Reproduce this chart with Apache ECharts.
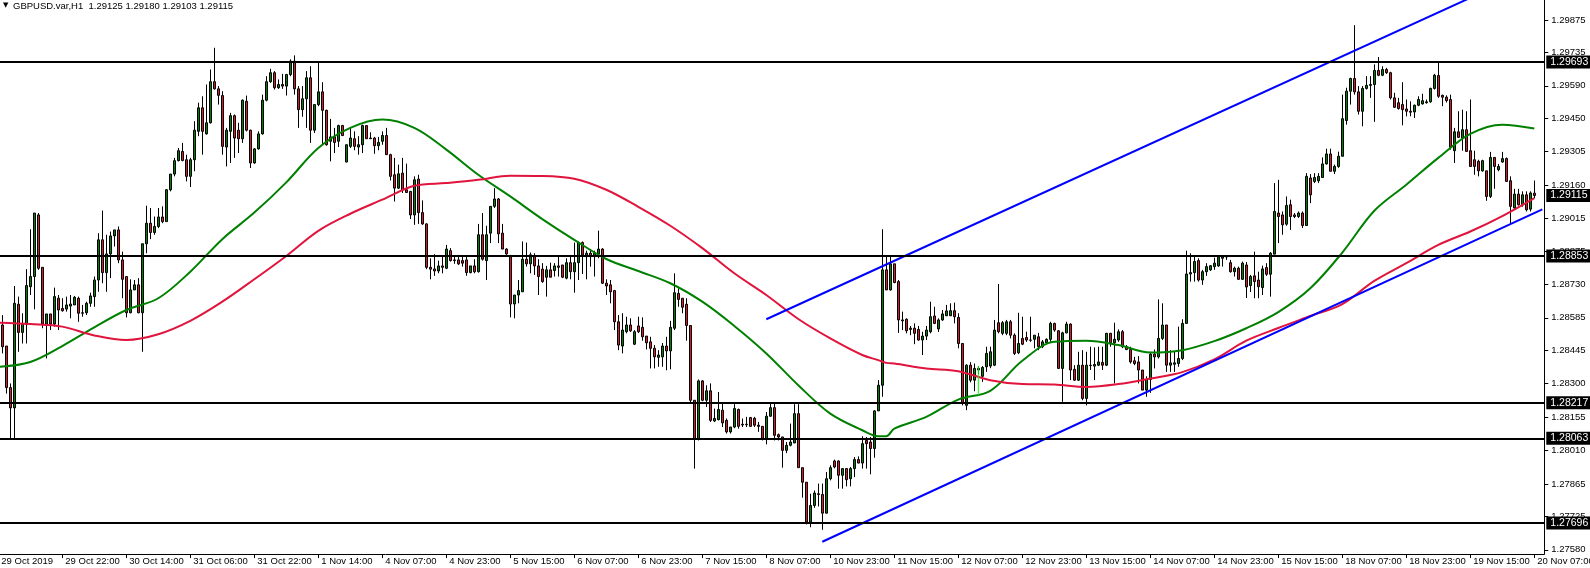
<!DOCTYPE html>
<html><head><meta charset="utf-8">
<script src="https://cdn.jsdelivr.net/npm/echarts@6/dist/echarts.min.js"></script>
<style>html,body{margin:0;padding:0;background:#fff}#c{width:1590px;height:568px}</style>
</head><body><div id="c"></div>
<script>
// ---- OHLC data (GBPUSD H1, 29 Oct 06:00 .. 20 Nov 07:00) ----
const opens = [
1.28567,1.28554,1.28463,1.28283,1.28195,1.28644,1.28522,1.28557,1.28720,1.28764,
1.29031,1.28804,1.28558,1.28602,1.28558,1.28670,1.28626,1.28623,1.28636,1.28641,
1.28670,1.28607,1.28607,1.28648,1.28677,1.28749,1.28923,1.28781,1.28862,1.28940,
1.28966,1.28836,1.28764,1.28607,1.28706,1.28728,1.28607,1.28906,1.28995,1.28955,
1.28981,1.29022,1.29002,1.29140,1.29208,1.29266,1.29306,1.29270,1.29198,1.29270,
1.29393,1.29495,1.29382,1.29430,1.29608,1.29577,1.29548,1.29325,1.29393,1.29461,
1.29398,1.29361,1.29523,1.29398,1.29256,1.29317,1.29382,1.29528,1.29608,1.29647,
1.29582,1.29596,1.29589,1.29639,1.29697,1.29577,1.29487,1.29534,1.29625,1.29398,
1.29509,1.29564,1.29484,1.29350,1.29369,1.29350,1.29418,1.29260,1.29328,1.29361,
1.29325,1.29335,1.29418,1.29364,1.29364,1.29331,1.29350,1.29375,1.29292,1.29205,
1.29147,1.29212,1.29140,1.29133,1.29031,1.29186,1.29041,1.28992,1.28804,1.28797,
1.28788,1.28810,1.28800,1.28876,1.28836,1.28836,1.28833,1.28836,1.28781,1.28810,
1.28785,1.28945,1.28833,1.28952,1.29068,1.29100,1.28952,1.28883,1.28850,1.28645,
1.28684,1.28698,1.28839,1.28819,1.28853,1.28810,1.28796,1.28761,1.28793,1.28790,
1.28810,1.28814,1.28757,1.28824,1.28785,1.28824,1.28911,1.28850,1.28865,1.28850,
1.28862,1.28883,1.28735,1.28728,1.28703,1.28568,1.28463,1.28525,1.28554,1.28471,
1.28550,1.28544,1.28506,1.28481,1.28453,1.28414,1.28416,1.28463,1.28442,1.28540,
1.28691,1.28670,1.28644,1.28552,1.28228,1.28062,1.28312,1.28228,1.28269,1.28138,
1.28144,1.28185,1.28141,1.28091,1.28112,1.28188,1.28124,1.28124,1.28153,1.28150,
1.28120,1.28115,1.28062,1.28159,1.28196,1.28079,1.28069,1.28011,1.28033,1.28043,
1.28170,1.27936,1.27873,1.27700,1.27772,1.27823,1.27820,1.27739,1.27888,1.27965,
1.27965,1.27903,1.27932,1.27888,1.27932,1.27971,1.27956,1.28054,1.28047,1.28019,
1.28182,1.28293,1.28793,1.28706,1.28819,1.28742,1.28576,1.28579,1.28535,1.28540,
1.28535,1.28489,1.28506,1.28525,1.28593,1.28537,1.28576,1.28594,1.28594,1.28616,
1.28587,1.28474,1.28206,1.28380,1.28315,1.28366,1.28332,1.28373,1.28376,1.28380,
1.28564,1.28518,1.28518,1.28568,1.28510,1.28434,1.28496,1.28500,1.28489,1.28492,
1.28503,1.28460,1.28477,1.28492,1.28561,1.28529,1.28366,1.28520,1.28558,1.28362,
1.28315,1.28380,1.28236,1.28380,1.28376,1.28380,1.28392,1.28380,1.28518,1.28477,
1.28489,1.28525,1.28460,1.28448,1.28399,1.28394,1.28359,1.28272,1.28318,1.28428,
1.28416,1.28496,1.28554,1.28380,1.28384,1.28387,1.28409,1.28561,1.28775,1.28781,
1.28833,1.28749,1.28785,1.28793,1.28807,1.28810,1.28843,1.28850,1.28824,1.28785,
1.28800,1.28752,1.28814,1.28725,1.28767,1.28749,1.28716,1.28803,1.28774,1.28861,
1.29039,1.29031,1.28991,1.29075,1.29031,1.29024,1.29039,1.28985,1.29191,1.29176,
1.29179,1.29193,1.29252,1.29295,1.29220,1.29241,1.29285,1.29440,1.29567,1.29622,
1.29564,1.29480,1.29579,1.29592,1.29596,1.29657,1.29636,1.29661,1.29647,1.29538,
1.29517,1.29509,1.29490,1.29480,1.29477,1.29506,1.29512,1.29517,1.29521,1.29579,
1.29635,1.29549,1.29541,1.29531,1.29309,1.29391,1.29364,1.29400,1.29309,1.29270,
1.29263,1.29222,1.29222,1.29111,1.29280,1.29227,1.29260,1.29275,1.29179,1.29061,
1.29121,1.29075,1.29118,1.29056,1.29125];
const highs = [
1.28597,1.28597,1.28463,1.28301,1.28723,1.28677,1.28605,1.28796,1.28969,1.29039,
1.29039,1.28804,1.28602,1.28602,1.28716,1.28684,1.28670,1.28677,1.28684,1.28680,
1.28677,1.28641,1.28655,1.28694,1.28764,1.28952,1.29050,1.28945,1.28959,1.28966,
1.28981,1.28872,1.28764,1.28752,1.28749,1.28757,1.28906,1.29071,1.29061,1.29024,
1.29061,1.29068,1.29143,1.29208,1.29278,1.29321,1.29343,1.29292,1.29278,1.29437,
1.29517,1.29545,1.29596,1.29661,1.29755,1.29589,1.29567,1.29408,1.29473,1.29466,
1.29430,1.29531,1.29548,1.29400,1.29321,1.29393,1.29552,1.29632,1.29664,1.29654,
1.29618,1.29642,1.29642,1.29705,1.29722,1.29589,1.29589,1.29654,1.29675,1.29509,
1.29697,1.29606,1.29487,1.29447,1.29408,1.29422,1.29421,1.29335,1.29408,1.29393,
1.29372,1.29422,1.29418,1.29389,1.29369,1.29369,1.29393,1.29408,1.29296,1.29278,
1.29249,1.29278,1.29253,1.29133,1.29198,1.29205,1.29094,1.28995,1.28843,1.28861,
1.28833,1.28850,1.28901,1.28887,1.28853,1.28858,1.28850,1.28850,1.28810,1.28839,
1.28992,1.29039,1.28984,1.29068,1.29147,1.29104,1.28992,1.28887,1.28858,1.28684,
1.28749,1.28916,1.28911,1.28868,1.28865,1.28839,1.28822,1.28810,1.28824,1.28822,
1.28850,1.28814,1.28843,1.28850,1.28911,1.28916,1.28916,1.28876,1.28883,1.28876,
1.28963,1.28887,1.28752,1.28749,1.28706,1.28597,1.28605,1.28590,1.28583,1.28532,
1.28590,1.28587,1.28506,1.28503,1.28467,1.28445,1.28476,1.28503,1.28572,1.28778,
1.28713,1.28670,1.28670,1.28552,1.28228,1.28318,1.28315,1.28293,1.28301,1.28192,
1.28264,1.28217,1.28149,1.28112,1.28211,1.28192,1.28149,1.28156,1.28156,1.28156,
1.28134,1.28115,1.28177,1.28214,1.28214,1.28084,1.28069,1.28047,1.28127,1.28211,
1.28211,1.27936,1.27873,1.27823,1.27837,1.27867,1.27867,1.27917,1.27946,1.27971,
1.27968,1.27932,1.27932,1.27939,1.27982,1.27985,1.28072,1.28069,1.28069,1.28185,
1.28315,1.28969,1.28850,1.28850,1.28819,1.28749,1.28612,1.28583,1.28550,1.28561,
1.28550,1.28525,1.28550,1.28655,1.28633,1.28583,1.28619,1.28641,1.28648,1.28651,
1.28605,1.28474,1.28384,1.28393,1.28387,1.28376,1.28376,1.28460,1.28460,1.28576,
1.28732,1.28571,1.28576,1.28576,1.28518,1.28607,1.28590,1.28525,1.28590,1.28510,
1.28520,1.28489,1.28496,1.28568,1.28564,1.28532,1.28525,1.28568,1.28561,1.28380,
1.28438,1.28445,1.28438,1.28460,1.28457,1.28460,1.28460,1.28520,1.28520,1.28564,
1.28535,1.28532,1.28467,1.28460,1.28416,1.28419,1.28359,1.28332,1.28438,1.28448,
1.28665,1.28648,1.28554,1.28445,1.28438,1.28547,1.28579,1.28876,1.28865,1.28850,
1.28843,1.28793,1.28822,1.28814,1.28846,1.28850,1.28853,1.28853,1.28836,1.28807,
1.28807,1.28829,1.28827,1.28771,1.28872,1.28785,1.28811,1.28822,1.28870,1.29169,
1.29183,1.29046,1.29111,1.29097,1.29039,1.29046,1.29046,1.29212,1.29208,1.29212,
1.29212,1.29280,1.29318,1.29318,1.29249,1.29305,1.29552,1.29582,1.29625,1.29853,
1.29589,1.29589,1.29632,1.29632,1.29683,1.29715,1.29675,1.29668,1.29651,1.29560,
1.29538,1.29606,1.29531,1.29523,1.29509,1.29545,1.29556,1.29531,1.29582,1.29642,
1.29695,1.29552,1.29549,1.29552,1.29408,1.29480,1.29487,1.29480,1.29531,1.29309,
1.29270,1.29270,1.29222,1.29304,1.29280,1.29252,1.29304,1.29280,1.29198,1.29144,
1.29144,1.29133,1.29133,1.29133,1.29180];
const lows = [
1.28532,1.28431,1.28257,1.28063,1.28063,1.28438,1.28474,1.28474,1.28684,1.28622,
1.28793,1.28540,1.28409,1.28532,1.28547,1.28532,1.28612,1.28612,1.28583,1.28641,
1.28568,1.28590,1.28597,1.28633,1.28633,1.28698,1.28735,1.28698,1.28757,1.28894,
1.28822,1.28670,1.28587,1.28605,1.28706,1.28605,1.28438,1.28865,1.28926,1.28945,
1.28974,1.28995,1.29002,1.29133,1.29198,1.29263,1.29263,1.29176,1.29152,1.29220,
1.29372,1.29292,1.29379,1.29427,1.29574,1.29509,1.29292,1.29241,1.29256,1.29278,
1.29299,1.29343,1.29393,1.29234,1.29253,1.29314,1.29379,1.29523,1.29603,1.29574,
1.29577,1.29577,1.29548,1.29632,1.29552,1.29408,1.29456,1.29408,1.29343,1.29386,
1.29502,1.29335,1.29331,1.29263,1.29299,1.29325,1.29372,1.29259,1.29321,1.29311,
1.29292,1.29299,1.29360,1.29360,1.29296,1.29311,1.29335,1.29292,1.29180,1.29089,
1.29143,1.29126,1.29126,1.29013,1.28988,1.28992,1.28988,1.28796,1.28752,1.28767,
1.28778,1.28778,1.28796,1.28829,1.28819,1.28814,1.28807,1.28767,1.28778,1.28778,
1.28781,1.28833,1.28749,1.28909,1.29061,1.28909,1.28883,1.28858,1.28587,1.28583,
1.28648,1.28698,1.28807,1.28778,1.28771,1.28684,1.28737,1.28677,1.28761,1.28764,
1.28764,1.28757,1.28752,1.28752,1.28694,1.28749,1.28775,1.28752,1.28807,1.28764,
1.28843,1.28732,1.28684,1.28648,1.28532,1.28445,1.28431,1.28518,1.28524,1.28467,
1.28519,1.28486,1.28448,1.28366,1.28366,1.28373,1.28373,1.28358,1.28362,1.28532,
1.28633,1.28605,1.28486,1.28214,1.27932,1.28054,1.28224,1.28199,1.28134,1.28134,
1.28141,1.28112,1.28084,1.28084,1.28107,1.28105,1.28112,1.28112,1.28112,1.28112,
1.28091,1.28054,1.28037,1.28156,1.28054,1.28054,1.27936,1.27999,1.28028,1.28043,
1.27936,1.27806,1.27690,1.27678,1.27762,1.27768,1.27667,1.27738,1.27881,1.27933,
1.27845,1.27845,1.27855,1.27855,1.27895,1.27955,1.27932,1.27932,1.27907,1.27979,
1.28182,1.28243,1.28706,1.28703,1.28735,1.28520,1.28532,1.28518,1.28510,1.28471,
1.28486,1.28424,1.28489,1.28518,1.28558,1.28524,1.28572,1.28593,1.28593,1.28561,
1.28453,1.28206,1.28185,1.28306,1.28267,1.28341,1.28308,1.28351,1.28367,1.28376,
1.28518,1.28510,1.28510,1.28496,1.28424,1.28428,1.28467,1.28481,1.28481,1.28453,
1.28445,1.28454,1.28476,1.28481,1.28525,1.28366,1.28221,1.28518,1.28315,1.28312,
1.28312,1.28228,1.28206,1.28359,1.28315,1.28376,1.28359,1.28376,1.28460,1.28301,
1.28481,1.28454,1.28445,1.28387,1.28380,1.28301,1.28272,1.28243,1.28260,1.28366,
1.28409,1.28489,1.28351,1.28351,1.28351,1.28373,1.28402,1.28561,1.28742,1.28742,
1.28742,1.28728,1.28767,1.28788,1.28793,1.28806,1.28807,1.28836,1.28781,1.28764,
1.28749,1.28749,1.28671,1.28697,1.28670,1.28670,1.28684,1.28767,1.28677,1.28861,
1.28909,1.28945,1.28984,1.28966,1.29017,1.29018,1.28974,1.28984,1.29082,1.29169,
1.29169,1.29191,1.29249,1.29220,1.29208,1.29235,1.29285,1.29422,1.29509,1.29552,
1.29466,1.29415,1.29574,1.29538,1.29434,1.29632,1.29632,1.29642,1.29531,1.29495,
1.29487,1.29419,1.29458,1.29458,1.29451,1.29502,1.29509,1.29513,1.29517,1.29574,
1.29538,1.29502,1.29518,1.29314,1.29256,1.29364,1.29309,1.29306,1.29241,1.29205,
1.29198,1.29218,1.29092,1.29104,1.29144,1.29220,1.29257,1.29176,1.28995,1.29053,
1.29072,1.29066,1.29046,1.29046,1.29103];
const closes = [
1.28554,1.28460,1.28283,1.28195,1.28648,1.28522,1.28557,1.28725,1.28764,1.29039,
1.28800,1.28558,1.28602,1.28558,1.28677,1.28619,1.28616,1.28641,1.28645,1.28674,
1.28605,1.28605,1.28648,1.28680,1.28749,1.28923,1.28781,1.28862,1.28940,1.28966,
1.28836,1.28752,1.28607,1.28706,1.28728,1.28607,1.28906,1.28995,1.28955,1.28981,
1.29022,1.29002,1.29140,1.29208,1.29266,1.29309,1.29267,1.29198,1.29270,1.29398,
1.29495,1.29393,1.29430,1.29608,1.29577,1.29549,1.29328,1.29398,1.29461,1.29364,
1.29361,1.29528,1.29398,1.29256,1.29317,1.29382,1.29528,1.29608,1.29647,1.29582,
1.29596,1.29589,1.29639,1.29697,1.29577,1.29487,1.29534,1.29625,1.29398,1.29509,
1.29564,1.29484,1.29335,1.29369,1.29345,1.29418,1.29375,1.29335,1.29364,1.29328,
1.29335,1.29418,1.29361,1.29361,1.29331,1.29345,1.29375,1.29292,1.29198,1.29147,
1.29209,1.29140,1.29128,1.29031,1.29183,1.29041,1.28992,1.28804,1.28796,1.28788,
1.28810,1.28804,1.28883,1.28833,1.28833,1.28819,1.28822,1.28781,1.28810,1.28785,
1.28945,1.28839,1.28945,1.29068,1.29100,1.28949,1.28883,1.28862,1.28645,1.28684,
1.28703,1.28839,1.28819,1.28858,1.28810,1.28764,1.28742,1.28793,1.28761,1.28810,
1.28804,1.28761,1.28824,1.28785,1.28824,1.28911,1.28858,1.28865,1.28850,1.28865,
1.28883,1.28735,1.28723,1.28698,1.28568,1.28467,1.28532,1.28554,1.28529,1.28525,
1.28525,1.28503,1.28477,1.28453,1.28416,1.28424,1.28463,1.28442,1.28544,1.28694,
1.28665,1.28631,1.28552,1.28228,1.28062,1.28312,1.28228,1.28269,1.28141,1.28149,
1.28188,1.28130,1.28091,1.28112,1.28192,1.28115,1.28121,1.28122,1.28115,1.28120,
1.28115,1.28062,1.28159,1.28196,1.28076,1.28069,1.28011,1.28033,1.28047,1.28170,
1.27936,1.27873,1.27700,1.27772,1.27826,1.27820,1.27739,1.27888,1.27936,1.27939,
1.27903,1.27932,1.27884,1.27932,1.27971,1.27956,1.28040,1.28040,1.28019,1.28182,
1.28293,1.28793,1.28706,1.28819,1.28738,1.28576,1.28572,1.28529,1.28540,1.28518,
1.28489,1.28506,1.28532,1.28590,1.28561,1.28576,1.28602,1.28615,1.28616,1.28590,
1.28474,1.28214,1.28380,1.28315,1.28366,1.28359,1.28370,1.28431,1.28438,1.28532,
1.28525,1.28564,1.28568,1.28510,1.28431,1.28474,1.28471,1.28489,1.28488,1.28510,
1.28460,1.28481,1.28492,1.28561,1.28532,1.28366,1.28520,1.28558,1.28359,1.28315,
1.28380,1.28236,1.28380,1.28378,1.28383,1.28394,1.28380,1.28518,1.28477,1.28492,
1.28525,1.28460,1.28448,1.28394,1.28387,1.28359,1.28272,1.28318,1.28428,1.28416,
1.28496,1.28554,1.28380,1.28390,1.28390,1.28409,1.28561,1.28775,1.28781,1.28829,
1.28749,1.28785,1.28807,1.28811,1.28822,1.28848,1.28850,1.28849,1.28785,1.28800,
1.28752,1.28822,1.28719,1.28764,1.28742,1.28720,1.28797,1.28774,1.28865,1.29046,
1.29024,1.28988,1.29072,1.29024,1.29024,1.29039,1.28985,1.29198,1.29118,1.29193,
1.29198,1.29252,1.29295,1.29220,1.29241,1.29285,1.29448,1.29567,1.29622,1.29564,
1.29480,1.29579,1.29592,1.29596,1.29657,1.29636,1.29661,1.29647,1.29538,1.29497,
1.29492,1.29487,1.29480,1.29476,1.29506,1.29531,1.29526,1.29521,1.29579,1.29636,
1.29545,1.29541,1.29526,1.29324,1.29391,1.29367,1.29400,1.29306,1.29241,1.29241,
1.29222,1.29266,1.29111,1.29280,1.29241,1.29241,1.29275,1.29176,1.29068,1.29121,
1.29075,1.29118,1.29053,1.29126,1.29115];

// ---- moving averages, read at bar indices ----
const maIndex = [0,8,16,24,32,40,48,56,64,72,80,88,96,104,112,120,128,136,144,152,160,168,176,184,192,200,208,216,220,222,224,232,240,248,256,264,272,280,288,296,304,312,320,328,336,344,352,360,368,376,384];
const maFast = [1.28373,1.28394,1.28463,1.28544,1.28619,1.28670,1.28785,1.28926,1.29041,1.29172,1.29321,1.29408,1.29444,1.29408,1.29314,1.29205,1.29111,1.29013,1.28923,1.28840,1.28788,1.28735,1.28655,1.28550,1.28431,1.28293,1.28170,1.28098,1.28072,1.28072,1.28105,1.28156,1.28231,1.28269,1.28399,1.28481,1.28486,1.28467,1.28435,1.28445,1.28484,1.28540,1.28610,1.28713,1.28868,1.29049,1.29162,1.29278,1.29382,1.29422,1.29405];
const maSlow = [1.28564,1.28558,1.28547,1.28509,1.28489,1.28514,1.28572,1.28655,1.28752,1.28853,1.28962,1.29036,1.29097,1.29157,1.29169,1.29183,1.29201,1.29200,1.29188,1.29140,1.29066,1.28984,1.28887,1.28778,1.28684,1.28580,1.28496,1.28424,1.28402,1.28390,1.28387,1.28366,1.28354,1.28315,1.28298,1.28296,1.28286,1.28298,1.28322,1.28350,1.28405,1.28486,1.28541,1.28593,1.28645,1.28745,1.28822,1.28901,1.28959,1.29026,1.29104];

// ---- drawn objects ----
const levels = [1.29693, 1.28853, 1.28217, 1.28063, 1.27696];
const lastPrice = 1.29115;
const upperChannel = [[192, 1.28579], [384, 1.30098]];
const lowerChannel = [[206, 1.27615], [386, 1.29055]];
const arrowMark = [[245, 1.28250], [245, 1.28376]];

// ---- axes ----
const yTicks = [1.27580,1.27725,1.27865,1.28010,1.28155,1.28300,1.28445,1.28585,1.28730,1.28875,1.29015,1.29160,1.29305,1.29450,1.29590,1.29735,1.29875];
const xTickLabels = ['29 Oct 2019','29 Oct 22:00','30 Oct 14:00','31 Oct 06:00','31 Oct 22:00','1 Nov 14:00','4 Nov 07:00','4 Nov 23:00','5 Nov 15:00','6 Nov 07:00','6 Nov 23:00','7 Nov 15:00','8 Nov 07:00','10 Nov 23:00','11 Nov 15:00','12 Nov 07:00','12 Nov 23:00','13 Nov 15:00','14 Nov 07:00','14 Nov 23:00','15 Nov 15:00','18 Nov 07:00','18 Nov 23:00','19 Nov 15:00','20 Nov 07:00'];
const titleText = 'GBPUSD.var,H1  1.29125 1.29180 1.29103 1.29115';

const categories = [];
(function () {
  const mon = ['Jan','Feb','Mar','Apr','May','Jun','Jul','Aug','Sep','Oct','Nov','Dec'];
  const breaks = [[Date.UTC(2019,10,1,22), Date.UTC(2019,10,4,0)],
                  [Date.UTC(2019,10,8,22), Date.UTC(2019,10,10,23)],
                  [Date.UTC(2019,10,15,22), Date.UTC(2019,10,17,23)]];
  let t = Date.UTC(2019,9,29,6);
  for (let i = 0; i < 387; i++) {
    const d = new Date(t);
    categories.push(d.getUTCDate() + ' ' + mon[d.getUTCMonth()] + ' ' + String(d.getUTCHours()).padStart(2,'0') + ':00');
    const b = breaks.find(x => x[0] === t);
    t = b ? b[1] : t + 3600000;
  }
})();

const FONT = 'Liberation Sans';
const candles = opens.map((o, i) => [o, closes[i], lows[i], highs[i]]);
const boxLabel = {
  show: true, position: 'end', distance: 2,
  formatter: p => Number(p.value).toFixed(5),
  backgroundColor: '#000', color: '#fff', fontFamily: FONT, fontSize: 10.5,
  padding: [2, 4, 1, 4], lineHeight: 10
};
const showIdx = (i) => i % 16 === 0 && i <= 384;

const chart = echarts.init(document.getElementById('c'), null, {renderer: 'canvas'});
chart.setOption({
  animation: false,
  backgroundColor: '#fff',
  title: [
    {text: '▼', left: 3, top: 2, padding: 0, textStyle: {fontSize: 7, fontWeight: 'normal', color: '#000', fontFamily: 'DejaVu Sans'}},
    {text: titleText, left: 13, top: 1, padding: 0, textStyle: {fontSize: 9.5, fontWeight: 'normal', color: '#000', fontFamily: FONT}}
  ],
  grid: {left: -3.7, top: 0, width: 1548, height: 554, containLabel: false, outerBoundsMode: 'none'},
  xAxis: {
    type: 'category', data: categories, boundaryGap: true,
    axisLine: {show: true, lineStyle: {color: '#000', width: 1}},
    axisTick: {show: true, interval: showIdx, alignWithLabel: true, length: 4, lineStyle: {color: '#000'}},
    axisLabel: {interval: showIdx, align: 'left', padding: [0, 0, 0, 3], margin: 2, hideOverlap: false,
      formatter: (v, i) => xTickLabels[i / 16] || '', color: '#000', fontFamily: FONT, fontSize: 9.5},
    splitLine: {show: false}
  },
  yAxis: {
    type: 'value', position: 'right', min: 1.27562, max: 1.29962,
    axisLine: {show: true, lineStyle: {color: '#000', width: 1}},
    axisTick: {show: true, length: 4, customValues: yTicks, lineStyle: {color: '#000'}},
    axisLabel: {customValues: yTicks, margin: 7, formatter: v => v.toFixed(5), color: '#000', fontFamily: FONT, fontSize: 9.5},
    splitLine: {show: false}
  },
  series: [
    {
      type: 'candlestick', name: 'GBPUSD', data: candles, barWidth: 3,
      itemStyle: {color: '#008000', color0: '#d7192c', borderColor: '#000', borderColor0: '#000', borderColorDoji: '#000', borderWidth: 1}
    },
    {type: 'line', name: 'MA fast', data: maIndex.map((k, j) => [k, maFast[j]]), smooth: 0.35, showSymbol: false,
     lineStyle: {color: '#008000', width: 2}, z: 3},
    {type: 'line', name: 'MA slow', data: maIndex.map((k, j) => [k, maSlow[j]]), smooth: 0.35, showSymbol: false,
     lineStyle: {color: '#e0143c', width: 2}, z: 3},
    {type: 'line', name: 'upper channel', data: upperChannel, showSymbol: false, lineStyle: {color: '#0000ff', width: 2}, z: 4},
    {type: 'line', name: 'lower channel', data: lowerChannel, showSymbol: false, lineStyle: {color: '#0000ff', width: 2}, z: 4},
    {type: 'line', name: 'arrow', data: arrowMark, showSymbol: false, lineStyle: {color: '#00ff00', width: 1}, z: 4},
    {
      type: 'line', name: 'levels', data: [], clip: false, z: 5,
      markLine: {
        silent: true, symbol: ['none', 'none'], animation: false, precision: 5,
        data: levels.map(v => ({yAxis: v, lineStyle: {color: '#000', width: 2, type: 'solid'}, label: boxLabel}))
          .concat([{yAxis: lastPrice, lineStyle: {color: 'rgba(0,0,0,0)', width: 0}, label: boxLabel}])
      }
    }
  ]
});
</script>
</body></html>
